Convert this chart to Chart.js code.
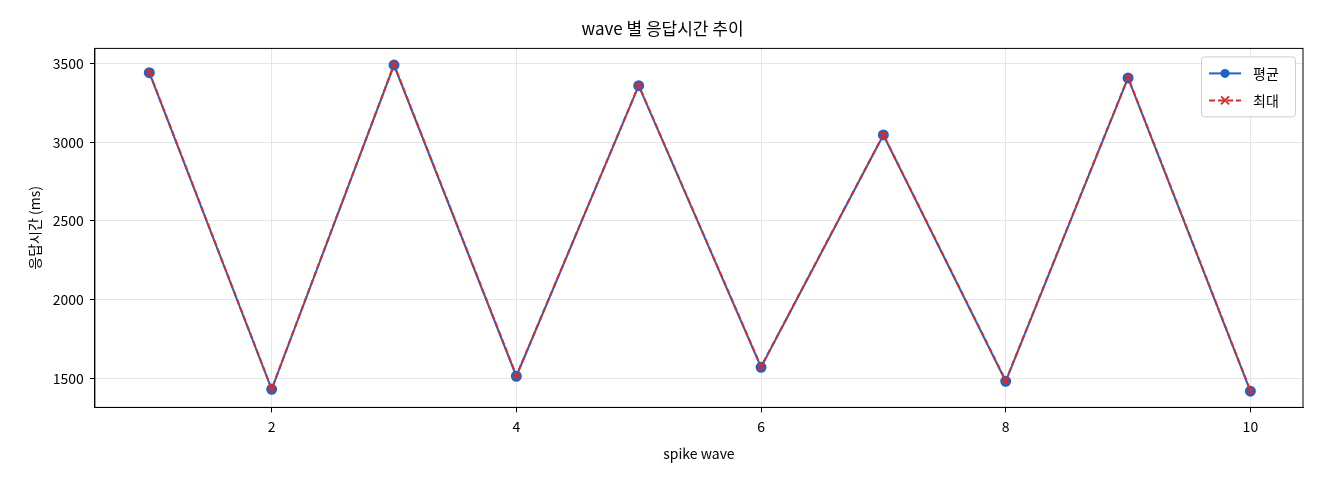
<!DOCTYPE html>
<html>
<head>
<meta charset="utf-8">
<script src="https://cdn.jsdelivr.net/npm/chart.js@4"></script>
<style>
  html, body { margin: 0; padding: 0; background: #fff; }
  #wrap { width: 1320px; height: 480px; }
</style>
</head>
<body>
<div id="wrap"><canvas id="chart"></canvas></div>
<script>
const waves = [1, 2, 3, 4, 5, 6, 7, 8, 9, 10];
const avgMs = [3442, 1430, 3490, 1513, 3359, 1570, 3046, 1481, 3408, 1418];
const maxMs = [3444, 1432, 3493, 1516, 3361, 1573, 3048, 1484, 3411, 1420];
const xTicks = [2, 4, 6, 8, 10];
const yTicks = [1500, 2000, 2500, 3000, 3500];

const FONT = "'Noto Sans CJK KR', 'DejaVu Sans', sans-serif";
Chart.defaults.font.family = FONT;
Chart.defaults.color = '#000';

// close the frame on top and right like matplotlib
const frame = {
  id: 'frame',
  afterDatasetsDraw(chart) {
    const { ctx, chartArea: a } = chart;
    ctx.save();
    ctx.strokeStyle = '#000';
    ctx.lineWidth = 1;
    ctx.strokeRect(a.left, a.top, a.right - a.left, a.bottom - a.top);
    ctx.restore();
  }
};

// matplotlib-ish legend box in the top right corner of the plot
const boxLegend = {
  id: 'boxLegend',
  afterDraw(chart) {
    const { ctx, chartArea } = chart;
    const w = 94, h = 60;
    const x = chartArea.right - w - 8, y = chartArea.top + 8;
    ctx.save();
    ctx.fillStyle = 'rgba(255,255,255,0.85)';
    ctx.strokeStyle = '#ccc';
    ctx.lineWidth = 1;
    ctx.beginPath();
    ctx.roundRect(x + 0.5, y + 0.5, w, h, 3);
    ctx.fill();
    ctx.stroke();
    chart.data.datasets.forEach((ds, i) => {
      const ly = y + 17 + i * 27;
      ctx.strokeStyle = ds.borderColor;
      ctx.lineWidth = 2;
      ctx.setLineDash(ds.borderDash || []);
      ctx.beginPath();
      ctx.moveTo(x + 8, ly);
      ctx.lineTo(x + 40, ly);
      ctx.stroke();
      ctx.setLineDash([]);
      const mx = x + 24;
      if (ds.pointStyle === 'cross') {
        ctx.lineWidth = 1.8;
        ctx.beginPath();
        ctx.moveTo(mx - 4, ly - 4); ctx.lineTo(mx + 4, ly + 4);
        ctx.moveTo(mx + 4, ly - 4); ctx.lineTo(mx - 4, ly + 4);
        ctx.stroke();
      } else {
        ctx.fillStyle = ds.borderColor;
        ctx.beginPath();
        ctx.arc(mx, ly, 4.5, 0, Math.PI * 2);
        ctx.fill();
      }
      ctx.fillStyle = '#000';
      ctx.font = '14px ' + FONT;
      ctx.textBaseline = 'middle';
      ctx.fillText(ds.label, x + 52, ly);
    });
    ctx.restore();
  }
};

new Chart(document.getElementById('chart'), {
  type: 'scatter',
  data: {
    datasets: [{
      label: '평균',
      data: waves.map((w, i) => ({ x: w, y: avgMs[i] })),
      showLine: true,
      order: 2,
      borderColor: '#1f63c6',
      backgroundColor: '#1f63c6',
      borderWidth: 2,
      pointRadius: 4.5,
      pointStyle: 'circle'
    }, {
      label: '최대',
      data: waves.map((w, i) => ({ x: w, y: maxMs[i] })),
      showLine: true,
      order: 1,
      borderColor: '#d62c2c',
      backgroundColor: '#d62c2c',
      borderWidth: 2,
      borderDash: [6, 3],
      pointRadius: 4.5,
      pointStyle: 'cross',
      pointBorderWidth: 2,
      pointRotation: 45
    }]
  },
  options: {
    responsive: true,
    maintainAspectRatio: false,
    animation: false,
    layout: { padding: { left: 22, right: 17, top: 4, bottom: 14 } },
    plugins: {
      legend: { display: false },
      tooltip: { enabled: false },
      title: {
        display: true,
        text: 'wave 별 응답시간 추이',
        font: { size: 17, weight: 'normal' },
        color: '#000',
        padding: { top: 14, bottom: 10 }
      }
    },
    scales: {
      x: {
        type: 'linear',
        min: 0.555,
        max: 10.43,
        afterBuildTicks: axis => { axis.ticks = xTicks.map(v => ({ value: v })); },
        ticks: { font: { size: 14 }, color: '#000', padding: 6, callback: v => String(v) },
        grid: { color: '#e6e6e6', tickColor: '#000', tickLength: 5 },
        border: { color: '#000', width: 1 },
        title: { display: true, text: 'spike wave', font: { size: 14 }, color: '#000' }
      },
      y: {
        min: 1315,
        max: 3596,
        afterBuildTicks: axis => { axis.ticks = yTicks.map(v => ({ value: v })); },
        ticks: { font: { size: 14 }, color: '#000', padding: 6, callback: v => String(v) },
        grid: { color: '#e6e6e6', tickColor: '#000', tickLength: 5 },
        border: { color: '#000', width: 1 },
        title: { display: true, text: '응답시간 (ms)', font: { size: 14 }, color: '#000' }
      }
    }
  },
  plugins: [frame, boxLegend]
});
</script>
</body>
</html>
